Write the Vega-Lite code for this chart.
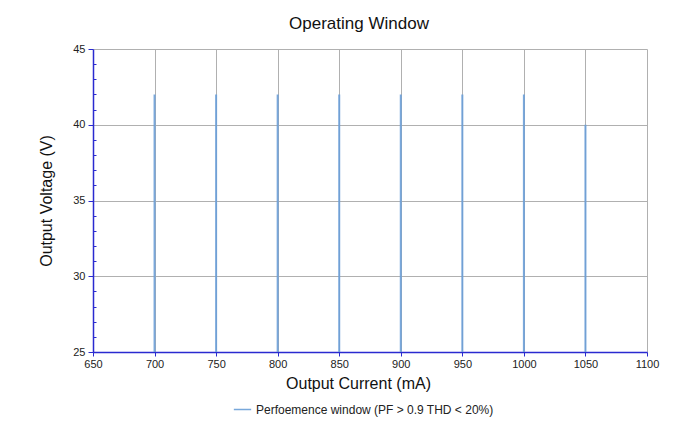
{
  "$schema": "https://vega.github.io/schema/vega-lite/v6.json",
  "autosize": "none",
  "width": 554,
  "height": 303,
  "padding": {"left": 93, "top": 49, "right": 35, "bottom": 75},
  "background": "white",
  "title": {
    "text": "Operating Window",
    "font": "Liberation Sans",
    "fontSize": 17,
    "fontWeight": "normal",
    "color": "#111111",
    "offset": 10,
    "dx": -11
  },
  "config": {
    "view": {"stroke": null},
    "font": "Liberation Sans"
  },
  "data": {
    "values": [
      {"current": 700, "vmin": 25, "vmax": 42, "series": "Perfoemence window (PF > 0.9 THD < 20%)"},
      {"current": 750, "vmin": 25, "vmax": 42, "series": "Perfoemence window (PF > 0.9 THD < 20%)"},
      {"current": 800, "vmin": 25, "vmax": 42, "series": "Perfoemence window (PF > 0.9 THD < 20%)"},
      {"current": 850, "vmin": 25, "vmax": 42, "series": "Perfoemence window (PF > 0.9 THD < 20%)"},
      {"current": 900, "vmin": 25, "vmax": 42, "series": "Perfoemence window (PF > 0.9 THD < 20%)"},
      {"current": 950, "vmin": 25, "vmax": 42, "series": "Perfoemence window (PF > 0.9 THD < 20%)"},
      {"current": 1000, "vmin": 25, "vmax": 42, "series": "Perfoemence window (PF > 0.9 THD < 20%)"},
      {"current": 1050, "vmin": 25, "vmax": 40, "series": "Perfoemence window (PF > 0.9 THD < 20%)"}
    ]
  },
  "layer": [
    {
      "mark": {"type": "rule", "strokeWidth": 2, "opacity": 0.9},
      "encoding": {
        "x": {
          "field": "current",
          "type": "quantitative",
          "scale": {"domain": [650, 1100], "nice": false},
          "axis": {
            "title": "Output Current (mA)",
            "titleFont": "Liberation Sans",
            "titleFontSize": 16,
            "titleFontWeight": "normal",
            "titleColor": "#111111",
            "titlePadding": 6,
            "titleX": 265,
            "values": [650, 700, 750, 800, 850, 900, 950, 1000, 1050, 1100],
            "format": "d",
            "labelFontSize": 11,
            "labelColor": "#222222",
            "labelPadding": 2,
            "labelFlush": false,
            "domainColor": "#2a2ad0",
            "domainWidth": 1.5,
            "tickColor": "#2a2ad0",
            "tickSize": 4,
            "grid": true,
            "gridColor": "#b0b0b0",
            "gridWidth": 1
          }
        },
        "y": {
          "field": "vmin",
          "type": "quantitative",
          "scale": {"domain": [25, 45], "nice": false},
          "axis": {
            "title": "Output Voltage (V)",
            "titleFont": "Liberation Sans",
            "titleFontSize": 16,
            "titleFontWeight": "normal",
            "titleColor": "#111111",
            "titlePadding": 18,
            "values": [25, 30, 35, 40, 45],
            "labelFontSize": 11,
            "labelColor": "#222222",
            "labelPadding": 3,
            "domainColor": "#2a2ad0",
            "domainWidth": 1.5,
            "tickColor": "#2a2ad0",
            "tickSize": 5,
            "grid": true,
            "gridColor": "#b0b0b0",
            "gridWidth": 1
          }
        },
        "y2": {"field": "vmax"},
        "color": {
          "field": "series",
          "type": "nominal",
          "scale": {"range": ["#6a9fd8"]},
          "legend": {
            "title": null,
            "orient": "none",
            "legendX": 140,
            "legendY": 351,
            "symbolType": "stroke",
            "symbolSize": 300,
            "symbolStrokeWidth": 1.5,
            "labelFontSize": 12,
            "labelLimit": 400,
            "labelColor": "#222222",
            "labelFont": "Liberation Sans"
          }
        }
      }
    },
    {
      "mark": {"type": "rule", "opacity": 0},
      "encoding": {
        "y": {
          "field": "vmin",
          "type": "quantitative",
          "scale": {"domain": [25, 45], "nice": false},
          "axis": {
            "orient": "left",
            "title": null,
            "labels": false,
            "domain": false,
            "grid": false,
            "values": [26, 27, 28, 29, 31, 32, 33, 34, 36, 37, 38, 39, 41, 42, 43, 44],
            "tickColor": "#2a2ad0",
            "tickSize": -3
          }
        }
      }
    }
  ],
  "resolve": {"axis": {"y": "independent"}}
}
